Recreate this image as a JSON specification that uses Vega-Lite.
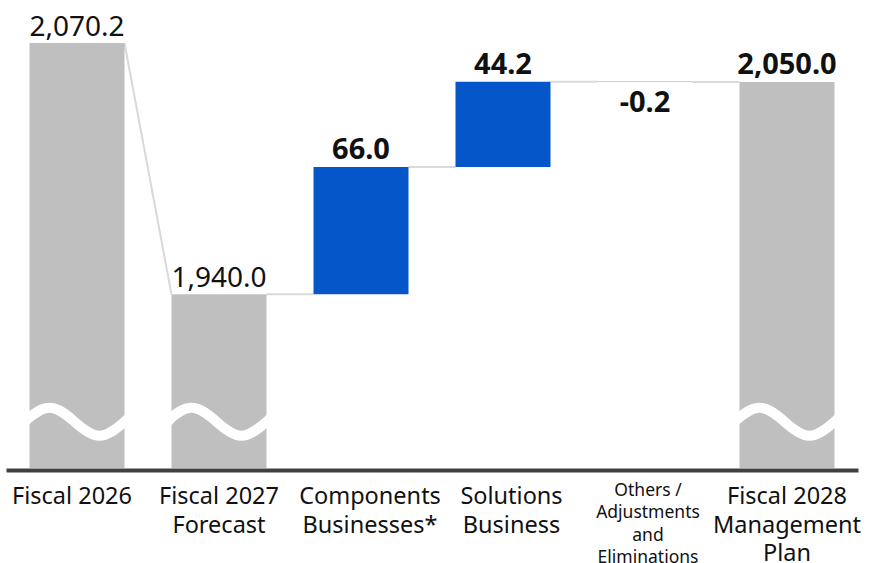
{
  "$schema": "https://vega.github.io/schema/vega-lite/v6.json",
  "width": 852,
  "height": 468,
  "padding": {"left": 4, "top": 0, "right": 0, "bottom": 0},
  "autosize": {"type": "pad"},
  "config": {"view": {"stroke": null}, "font": "Noto Sans"},
  "datasets": {
    "steps": [
      {"cat": "Fiscal 2026", "kind": "total", "start": 1850, "end": 2070.2, "label": "2,070.2"},
      {"cat": "Fiscal 2027|Forecast", "kind": "total", "start": 1850, "end": 1940.0, "label": "1,940.0"},
      {"cat": "Components|Businesses*", "kind": "change", "start": 1940.0, "end": 2006.0, "label": "66.0"},
      {"cat": "Solutions|Business", "kind": "change", "start": 2006.0, "end": 2050.2, "label": "44.2"},
      {"cat": "Others /|Adjustments|and|Eliminations", "kind": "change", "start": 2050.2, "end": 2050.0, "label": "-0.2"},
      {"cat": "Fiscal 2028|Management|Plan", "kind": "total", "start": 1850, "end": 2050.0, "label": "2,050.0"}
    ],
    "links": [
      {"from": "Fiscal 2026", "to": "Fiscal 2027|Forecast", "y1": 2070.2, "y2": 1940.0},
      {"from": "Fiscal 2027|Forecast", "to": "Components|Businesses*", "y1": 1940.0, "y2": 1940.0},
      {"from": "Components|Businesses*", "to": "Solutions|Business", "y1": 2006.0, "y2": 2006.0},
      {"from": "Solutions|Business", "to": "Others /|Adjustments|and|Eliminations", "y1": 2050.2, "y2": 2050.2},
      {"from": "Others /|Adjustments|and|Eliminations", "to": "Fiscal 2028|Management|Plan", "y1": 2050.0, "y2": 2050.0}
    ],
    "breaks": [
      {"cat": "Fiscal 2026", "at": 1874},
      {"cat": "Fiscal 2027|Forecast", "at": 1874},
      {"cat": "Fiscal 2028|Management|Plan", "at": 1874}
    ]
  },
  "layer": [
    {
      "data": {"name": "links"},
      "mark": {"type": "rule", "color": "#d9d9d9", "strokeWidth": 2},
      "encoding": {
        "x": {"field": "from", "type": "nominal", "bandPosition": 1, "title": null},
        "x2": {"field": "to", "bandPosition": 0},
        "y": {"field": "y1", "type": "quantitative", "title": null},
        "y2": {"field": "y2"}
      }
    },
    {
      "data": {"name": "steps"},
      "mark": {"type": "bar"},
      "encoding": {
        "x": {
          "field": "cat",
          "type": "nominal",
          "sort": null,
          "scale": {
            "domain": ["Fiscal 2026", "Fiscal 2027|Forecast", "Components|Businesses*", "Solutions|Business", "Others /|Adjustments|and|Eliminations", "Fiscal 2028|Management|Plan"],
            "paddingInner": 0.331,
            "paddingOuter": 0.1655
          },
          "axis": {
            "title": null,
            "labelAngle": 0,
            "labelAlign": "center",
            "ticks": false,
            "tickSize": 0,
            "offset": 2,
            "grid": false,
            "domainColor": "#404040",
            "domainWidth": 4,
            "labelFont": "Noto Sans",
            "labelColor": "#111111",
            "labelExpr": "split(datum.label, '|')",
            "labelBaseline": "top",
            "labelLimit": 400,
            "labelOverlap": false,
            "labelFlush": false,
            "labelFontSize": {"condition": {"test": "datum.value == 'Others /|Adjustments|and|Eliminations'", "value": 17.5}, "value": 23.5},
            "labelPadding": {"condition": {"test": "datum.value == 'Others /|Adjustments|and|Eliminations'", "value": 11}, "value": 14.5},
            "labelLineHeight": {"expr": "datum.value == 'Others /|Adjustments|and|Eliminations' ? 22.5 : 28.5"},
            "labelOffset": {
              "condition": [
                {"test": "datum.value == 'Fiscal 2026'", "value": -5},
                {"test": "datum.value == 'Components|Businesses*'", "value": 9},
                {"test": "datum.value == 'Solutions|Business'", "value": 8.5},
                {"test": "datum.value == 'Others /|Adjustments|and|Eliminations'", "value": 3}
              ],
              "value": 0
            }
          }
        },
        "y": {"field": "start", "type": "quantitative", "scale": {"domain": [1850, 2092.5], "zero": false, "nice": false}, "axis": null},
        "y2": {"field": "end"},
        "color": {"field": "kind", "type": "nominal", "scale": {"domain": ["total", "change"], "range": ["#bfbfbf", "#0556c8"]}, "legend": null}
      }
    },
    {
      "data": {"name": "breaks"},
      "mark": {
        "type": "point",
        "shape": "M-1.05,0 C-0.626,-0.373 -0.474,-0.373 -0.05,0 C0.374,0.373 0.526,0.373 0.95,0 C1.374,-0.373 1.526,-0.373 1.95,0",
        "size": 10000,
        "filled": false,
        "color": "white",
        "stroke": "white",
        "strokeWidth": 10,
        "strokeCap": "butt",
        "opacity": 1
      },
      "encoding": {
        "x": {"field": "cat", "type": "nominal", "title": null},
        "y": {"field": "at", "type": "quantitative", "title": null}
      }
    },
    {
      "data": {"name": "steps"},
      "transform": [{"filter": "datum.cat == 'Fiscal 2026' || datum.cat == 'Fiscal 2027|Forecast'"}],
      "mark": {"type": "text", "fontSize": 28, "dy": -7.5, "baseline": "alphabetic", "align": "center", "color": "#111111", "font": "Noto Sans"},
      "encoding": {
        "x": {"field": "cat", "type": "nominal", "title": null},
        "y": {"field": "end", "type": "quantitative", "title": null},
        "text": {"field": "label"}
      }
    },
    {
      "data": {"name": "steps"},
      "transform": [{"filter": "datum.cat == 'Components|Businesses*' || datum.cat == 'Solutions|Business' || datum.cat == 'Fiscal 2028|Management|Plan'"}],
      "mark": {"type": "text", "fontSize": 29, "fontWeight": "bold", "dy": -8, "baseline": "alphabetic", "align": "center", "color": "#111111", "font": "Noto Sans"},
      "encoding": {
        "x": {"field": "cat", "type": "nominal", "title": null},
        "y": {"field": "end", "type": "quantitative", "title": null},
        "text": {"field": "label"}
      }
    },
    {
      "data": {"name": "steps"},
      "transform": [{"filter": "datum.cat == 'Others /|Adjustments|and|Eliminations'"}],
      "mark": {"type": "text", "fontSize": 29, "fontWeight": "bold", "dy": 30, "baseline": "alphabetic", "align": "center", "color": "#111111", "font": "Noto Sans"},
      "encoding": {
        "x": {"field": "cat", "type": "nominal", "title": null},
        "y": {"field": "end", "type": "quantitative", "title": null},
        "text": {"field": "label"}
      }
    }
  ]
}
